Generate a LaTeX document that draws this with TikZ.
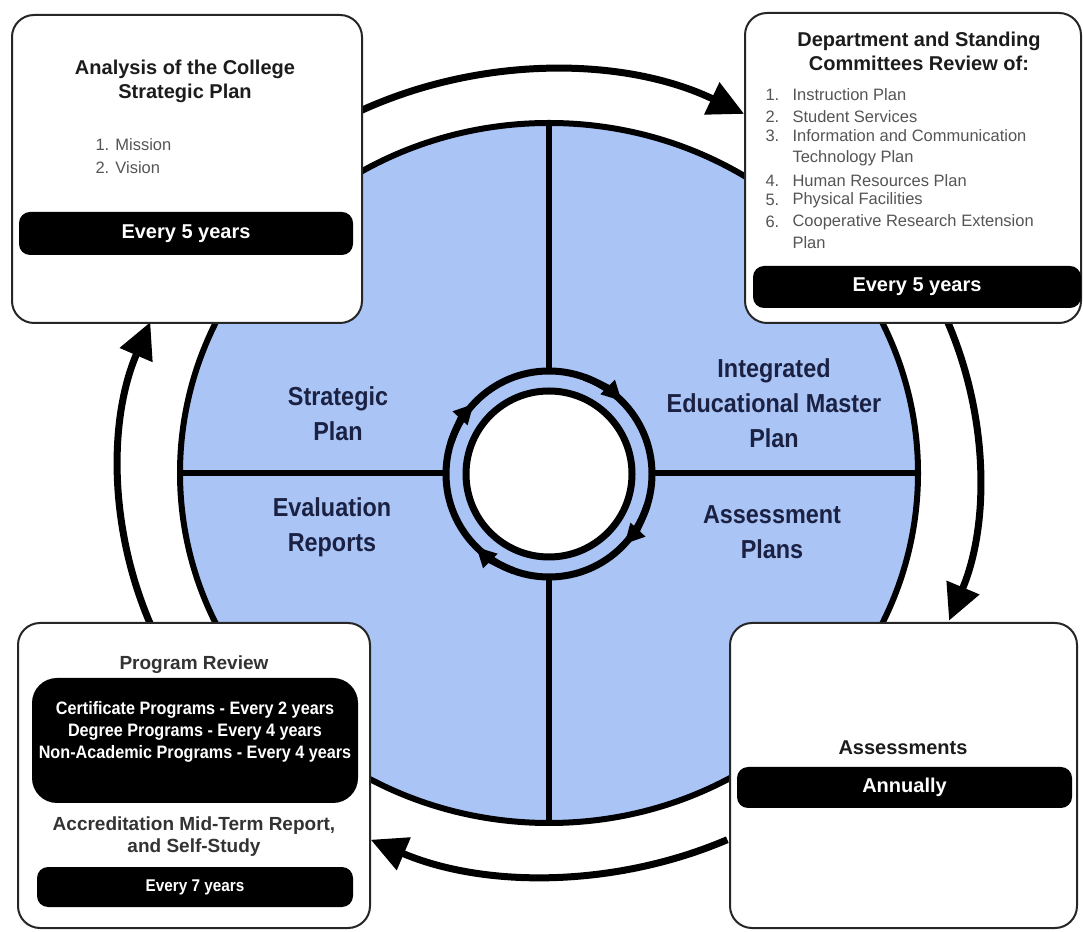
\documentclass[tikz,border=0pt]{standalone}
\usepackage{fontspec}
\setmainfont{Liberation Sans}
\newfontfamily\condfont[FakeStretch=0.9]{Liberation Sans}
\usetikzlibrary{arrows.meta}
\definecolor{diskblue}{RGB}{169,196,245}
\definecolor{navy}{RGB}{27,33,66}
\definecolor{ink}{RGB}{28,28,28}
\definecolor{listgray}{RGB}{85,85,85}
\tikzset{panel/.style={draw=black!85, line width=2pt, rounded corners=22pt, fill=white},
 bar/.style={fill=black, rounded corners=11pt},
 bartext/.style={text=white, font=\bfseries\fontsize{20}{24}\selectfont},
 head/.style={text=ink, align=center, font=\bfseries\fontsize{20}{24}\selectfont},
 listtext/.style={text=listgray, anchor=west, font=\fontsize{16.5}{20}\selectfont},
 sector/.style={text=navy, align=center, font=\condfont\bfseries\fontsize{26}{35}\selectfont},
 spoke/.style={line width=5.5pt},
 loop/.style={line width=7pt, -{Triangle[length=36pt,width=34pt]}},
 }

\begin{document}
\begin{tikzpicture}[x=1pt,y=1pt]
    \useasboundingbox (0,0) rectangle (1083,931);
    \coordinate (ctr) at (549,458);
    \coordinate (hub) at (549,457);
    % the wheel
    \filldraw[fill=diskblue, line width=6pt] (ctr) ellipse [x radius=369, y radius=350];
    \draw[spoke] (549,808) -- (549,108);
    \draw[spoke] (180,458) -- (918,458);
    \filldraw[fill=diskblue, line width=7pt] (hub) circle [radius=103];
    \filldraw[fill=white, line width=7pt] (hub) circle [radius=83];
    \foreach \a in {45,137,225,317} {
        \draw[line width=7pt, -{Triangle[length=20pt,width=19pt]}] (hub) ++(\a+25:103) arc [start angle=\a+25, end angle=\a, radius=103];
    }
    \node[sector] (strat) at (338,517) {Strategic\\Plan};
    \node[sector] (iemp) at (774,528) {Integrated\\Educational Master\\Plan};
    \node[sector] (evalrep) at (332,404) {Evaluation\\Reports};
    \node[sector] (assplan) at (772,399) {Assessment\\Plans};
    % the outer cycle
    \draw[loop] (ctr) ++(116:430 and 403) arc [start angle=116, end angle=63, x radius=430, y radius=403];
    \draw[loop] (ctr) ++(22:430 and 403) arc [start angle=22, end angle=-21.5, x radius=430, y radius=403];
    \draw[loop] (ctr) ++(-65.5:430 and 403) arc [start angle=-65.5, end angle=-114.5, x radius=430, y radius=403];
    \draw[loop] (ctr) ++(202:430 and 403) arc [start angle=202, end angle=158, x radius=430, y radius=403];
    % top left
    \node[panel, minimum width=350pt, minimum height=308pt] (tlbox) at (187,762) {};
    \node[head] (tlhead) at (185,850) {Analysis of the College\\Strategic Plan};
    \node[listtext] (mission) at (92,786) {1. Mission};
    \node[listtext] (vision) at (92,763) {2. Vision};
    \node[bar, minimum width=334pt, minimum height=43pt] (tlbar) at (186,697.5) {};
    \node[bartext] (tlfreq) at (tlbar) {Every 5 years};
    % top right
    \node[panel, minimum width=336pt, minimum height=310pt] (trbox) at (913,763) {};
    \node[head] (trhead) at (919,880) {Department and Standing\\Committees Review of:};
    \foreach \yy/\nn/\txt in {95/1./Instruction Plan, 117/2./Student Services,
        136/3./Information and Communication, 158//Technology Plan,
        181/4./Human Resources Plan, 200/5./Physical Facilities,
        222/6./Cooperative Research Extension, 243//Plan} {
        \node[listtext] (num\yy) at (762,931-\yy) {\nn};
        \node[listtext] (item\yy) at (789,931-\yy) {\txt};
    }
    \node[bar, minimum width=328pt, minimum height=42pt] (trbar) at (917,644) {};
    \node[bartext] (trfreq) at (trbar) {Every 5 years};
    % bottom left
    \node[panel, minimum width=352pt, minimum height=305pt] (blbox) at (194,155.5) {};
    \node[head, text=black!80, font=\bfseries\fontsize{19}{23}\selectfont] (prhead) at (194,266) {Program Review};
    \node[bar, rounded corners=25pt, minimum width=326pt, minimum height=125pt] (prbar) at (195,190.5) {};
    \node[bartext, align=center, font=\condfont\bfseries\fontsize{18}{22}\selectfont] (prfreq) at (195,199)
        {Certificate Programs - Every 2 years\\Degree Programs - Every 4 years\\Non-Academic Programs - Every 4 years};
    \node[head, text=black!80, font=\bfseries\fontsize{19}{22}\selectfont] (acchead) at (194,94) {Accreditation Mid-Term Report,\\and Self-Study};
    \node[bar, minimum width=316pt, minimum height=40pt] (blbar) at (195,44) {};
    \node[bartext, font=\condfont\bfseries\fontsize{17}{20}\selectfont] (blfreq) at (blbar) {Every 7 years};
    % bottom right
    \node[panel, minimum width=347pt, minimum height=305pt] (brbox) at (903.5,155.5) {};
    \node[head] (asshead) at (903,183) {Assessments};
    \node[bar, minimum width=335pt, minimum height=41pt] (brbar) at (904.5,143.5) {};
    \node[bartext] (brfreq) at (brbar) {Annually};
\end{tikzpicture}
\end{document}
